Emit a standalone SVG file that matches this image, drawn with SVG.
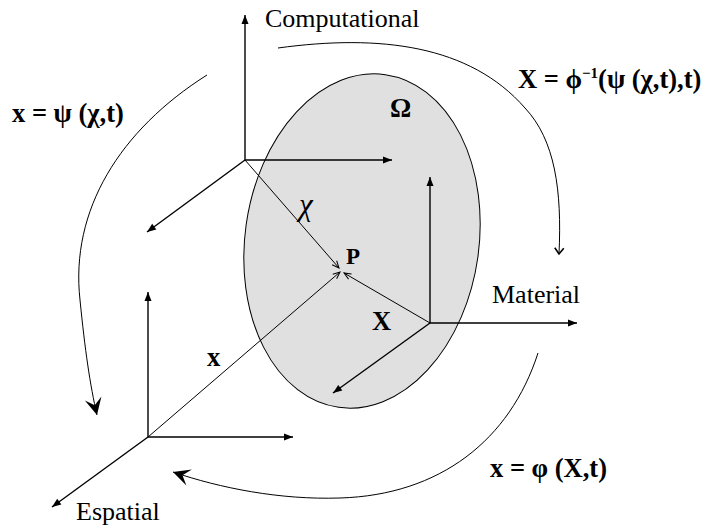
<svg xmlns="http://www.w3.org/2000/svg" width="705" height="530" viewBox="0 0 705 530">
<style>
.ax{stroke:#000;stroke-width:1.4;fill:none;marker-end:url(#tri)}
.vec{stroke:#000;stroke-width:1;fill:none;marker-end:url(#vee)}
.arc{stroke:#000;stroke-width:1;fill:none}
.lbl{font-family:"Liberation Serif","Times New Roman",serif;font-size:26px;fill:#000}
.b{font-weight:bold;font-size:26.5px}
</style>
<defs>
<marker id="tri" markerUnits="userSpaceOnUse" markerWidth="12" markerHeight="10" viewBox="-10 -5 12 10" refX="0" refY="0" orient="auto" overflow="visible">
<path d="M0,0 L-9,-3.5 L-9,3.5 Z" fill="#000"/>
</marker>
<marker id="vee" markerUnits="userSpaceOnUse" markerWidth="10" markerHeight="10" viewBox="-9 -5 10 10" refX="0" refY="0" orient="auto" overflow="visible">
<path d="M-7,-3 L0,0 L-7,3" fill="none" stroke="#000" stroke-width="1"/>
</marker>
<marker id="vee2" markerUnits="userSpaceOnUse" markerWidth="10" markerHeight="10" viewBox="-9 -5 10 10" refX="0" refY="0" orient="auto" overflow="visible">
<path d="M-6,-4.5 L0,0 L-6,4.5" fill="none" stroke="#000" stroke-width="1.6"/>
</marker>
<marker id="barb" markerUnits="userSpaceOnUse" markerWidth="20" markerHeight="20" viewBox="-18 -10 20 20" refX="0" refY="0" orient="auto" overflow="visible">
<path d="M0,0 L-17,-8.5 L-10,0 L-17,8.5 Z" fill="#000"/>
</marker>
</defs>
<g id="region-omega">
<ellipse cx="362" cy="241" rx="117" ry="168" transform="rotate(8 362 241)" fill="#e0e0e0" stroke="#000" stroke-width="1"/>
<text class="lbl b" x="390" y="117">Ω</text>
</g>
<g id="frame-computational">
<line class="ax" x1="245" y1="160" x2="245" y2="15"/>
<line class="ax" x1="245" y1="160" x2="392" y2="160"/>
<line class="ax" x1="245" y1="160" x2="147" y2="232"/>
<text class="lbl" x="265" y="27">Computational</text>
</g>
<g id="frame-material">
<line class="ax" x1="430" y1="323" x2="430" y2="177"/>
<line class="ax" x1="430" y1="323" x2="577" y2="323"/>
<line class="ax" x1="430" y1="323" x2="333" y2="393"/>
<text class="lbl" x="492" y="303">Material</text>
</g>
<g id="frame-spatial">
<line class="ax" x1="148" y1="437" x2="148" y2="292"/>
<line class="ax" x1="148" y1="437" x2="293" y2="437"/>
<line class="ax" x1="148" y1="437" x2="52" y2="507"/>
<text class="lbl" x="76" y="520">Espatial</text>
</g>
<g id="point-P">
<text class="lbl b" x="346" y="264" style="font-size:23px">P</text>
</g>
<g id="connectors">
<line class="vec" x1="245" y1="160" x2="339" y2="268"/>
<line class="vec" x1="148" y1="437" x2="340" y2="272"/>
<line class="vec" x1="430" y1="323" x2="344" y2="273"/>
<path class="arc" d="M278,48 C380,34 470,45 525,108 C555,140 562,190 559,254" marker-end="url(#vee2)"/>
<path class="arc" d="M207,75 C120,130 70,210 80,300 C85,350 90,385 97,415" marker-end="url(#barb)"/>
<path class="arc" d="M538,353 C510,440 440,495 340,498 C280,500 220,488 173,472" marker-end="url(#barb)"/>
</g>
<g id="labels">
<text class="lbl" x="299" y="215" font-style="italic" style="font-size:31px">χ</text>
<text class="lbl b" x="372" y="330">X</text>
<text class="lbl b" x="207" y="366">x</text>
<text class="lbl b" x="12" y="122">x = ψ (χ,t)</text>
<text class="lbl b" x="518" y="88">X = ϕ<tspan font-size="15" dy="-10">−1</tspan><tspan dy="10">(ψ (χ,t),t)</tspan></text>
<text class="lbl b" x="490" y="477">x = φ (X,t)</text>
</g>
</svg>
